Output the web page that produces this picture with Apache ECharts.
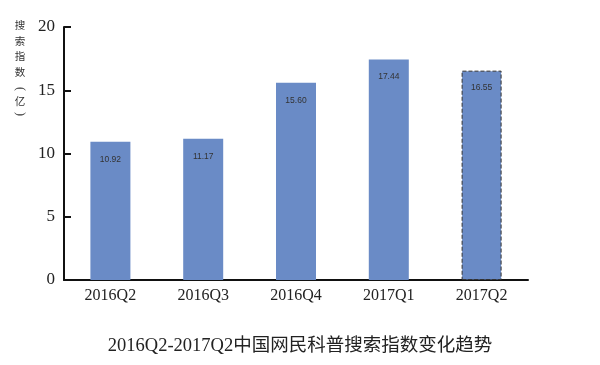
<!DOCTYPE html>
<html><head><meta charset="utf-8">
<script src="https://cdn.jsdelivr.net/npm/echarts@6/dist/echarts.min.js"></script>
<style>html,body{margin:0;padding:0;background:#fff}#c{width:600px;height:365px}</style>
</head><body><div id="c"></div>
<script>
var categories = ['2016Q2','2016Q3','2016Q4','2017Q1','2017Q2'];
var values = [10.92, 11.17, 15.60, 17.44, 16.55];
var labels = ['10.92','11.17','15.60','17.44','16.55'];
var yTicks = [0, 5, 10, 15, 20];
var titleText = '2016Q2-2017Q2中国网民科普搜索指数变化趋势';
var yNameChars = ['搜','索','指','数','(','亿',')'];

var serif = '"Liberation Serif", "Noto Sans CJK SC", serif';
var nameY = [25, 41, 56, 72, 89, 101, 114];
var graphics = yNameChars.map(function(ch, i){
  var isParen = (ch === '(' || ch === ')');
  return {
    type: 'text', x: 20, y: nameY[i], rotation: isParen ? -Math.PI/2 : 0,
    style: {
      text: ch,
      font: isParen ? '12px "Liberation Serif"' : '10.5px "Noto Sans CJK SC"',
      fill: '#333', align: 'center', verticalAlign: 'middle'
    }
  };
});

var chart = echarts.init(document.getElementById('c'), null, {renderer:'canvas'});
chart.setOption({
  animation: false,
  title: {
    text: titleText, left: 'center', top: 332,
    textStyle: {fontFamily: serif, fontSize: 18.5, fontWeight: 'normal', color: '#222'}
  },
  graphic: graphics,
  grid: {left: 64, right: 72, top: 27, bottom: 85},
  xAxis: {
    type: 'category', data: categories,
    axisLine: {lineStyle: {color: '#111', width: 2}},
    axisTick: {inside: true, length: 6, lineStyle: {color: '#111', width: 2}},
    axisLabel: {fontFamily: serif, fontSize: 16, color: '#222', margin: 8}
  },
  yAxis: {
    type: 'value', min: yTicks[0], max: yTicks[yTicks.length-1], interval: 5,
    splitLine: {show: false},
    axisLine: {show: true, lineStyle: {color: '#111', width: 2}},
    axisTick: {show: true, inside: true, length: 7, lineStyle: {color: '#111', width: 2}},
    axisLabel: {fontFamily: serif, fontSize: 17, color: '#222', margin: 9}
  },
  series: [{
    type: 'bar', barWidth: 40,
    data: values.map(function(v, i){
      var d = {value: v};
      if (i === values.length - 1) d.itemStyle = {borderColor: '#333', borderType: 'dashed', borderWidth: 1};
      return d;
    }),
    itemStyle: {color: '#6a8bc6'},
    label: {
      show: true, position: 'insideTop', distance: 13,
      formatter: function(p){ return labels[p.dataIndex]; },
      fontFamily: '"Liberation Sans", Arial, sans-serif', fontSize: 8.5, color: '#333'
    }
  }]
});
</script></body></html>
